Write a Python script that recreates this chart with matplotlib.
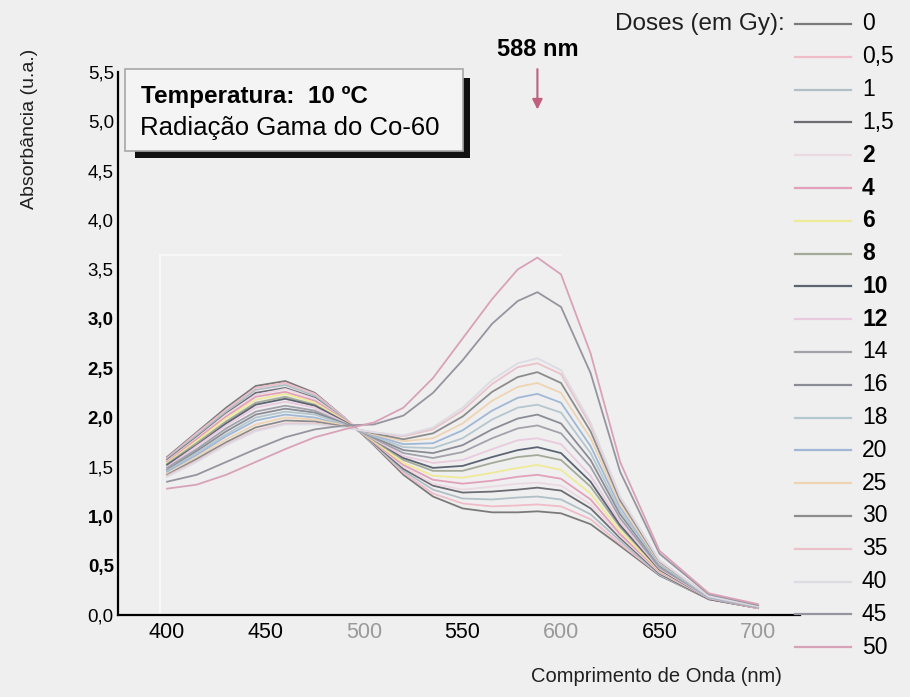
import matplotlib
matplotlib.use("Agg")
import matplotlib.pyplot as plt
from matplotlib.lines import Line2D
from matplotlib.patches import Rectangle

plt.rcParams['font.family'] = ['Liberation Sans', 'DejaVu Sans']

wavelength = [400, 415, 430, 445, 460, 475, 490, 505, 520, 535, 550, 565, 578, 588, 600, 615, 630, 650, 675, 700]

dose_labels = ["0", "0,5", "1", "1,5", "2", "4", "6", "8", "10", "12", "14", "16",
               "18", "20", "25", "30", "35", "40", "45", "50"]

abs_0   = [1.60, 1.85, 2.10, 2.32, 2.37, 2.25, 2.00, 1.72, 1.42, 1.20, 1.08, 1.04, 1.04, 1.05, 1.03, 0.92, 0.70, 0.40, 0.16, 0.07]
abs_0_5 = [1.59, 1.84, 2.08, 2.30, 2.35, 2.24, 2.00, 1.73, 1.44, 1.23, 1.13, 1.10, 1.11, 1.12, 1.10, 0.97, 0.72, 0.41, 0.16, 0.07]
abs_1   = [1.58, 1.82, 2.06, 2.28, 2.33, 2.22, 1.99, 1.73, 1.46, 1.27, 1.18, 1.17, 1.19, 1.20, 1.17, 1.02, 0.75, 0.41, 0.16, 0.07]
abs_1_5 = [1.57, 1.80, 2.04, 2.25, 2.30, 2.20, 1.98, 1.74, 1.48, 1.31, 1.24, 1.25, 1.27, 1.29, 1.26, 1.08, 0.78, 0.42, 0.16, 0.07]
abs_2   = [1.56, 1.79, 2.03, 2.23, 2.29, 2.19, 1.98, 1.75, 1.50, 1.33, 1.27, 1.30, 1.33, 1.34, 1.31, 1.12, 0.80, 0.43, 0.17, 0.07]
abs_4   = [1.55, 1.78, 2.01, 2.21, 2.26, 2.17, 1.98, 1.75, 1.52, 1.37, 1.33, 1.36, 1.40, 1.42, 1.38, 1.17, 0.82, 0.44, 0.17, 0.07]
abs_6   = [1.54, 1.76, 1.99, 2.18, 2.24, 2.15, 1.97, 1.76, 1.54, 1.41, 1.39, 1.44, 1.49, 1.52, 1.47, 1.23, 0.85, 0.45, 0.17, 0.08]
abs_8   = [1.53, 1.74, 1.96, 2.15, 2.21, 2.13, 1.96, 1.77, 1.57, 1.46, 1.46, 1.54, 1.60, 1.62, 1.57, 1.30, 0.89, 0.46, 0.17, 0.08]
abs_10  = [1.52, 1.72, 1.94, 2.13, 2.19, 2.12, 1.96, 1.78, 1.59, 1.49, 1.51, 1.60, 1.67, 1.70, 1.64, 1.35, 0.91, 0.46, 0.17, 0.08]
abs_12  = [1.50, 1.71, 1.92, 2.10, 2.16, 2.10, 1.95, 1.78, 1.61, 1.54, 1.57, 1.68, 1.77, 1.79, 1.73, 1.41, 0.94, 0.47, 0.17, 0.08]
abs_14  = [1.49, 1.68, 1.89, 2.06, 2.12, 2.07, 1.94, 1.79, 1.64, 1.59, 1.65, 1.79, 1.89, 1.92, 1.84, 1.50, 0.98, 0.48, 0.18, 0.08]
abs_16  = [1.47, 1.66, 1.86, 2.03, 2.09, 2.05, 1.94, 1.80, 1.67, 1.64, 1.72, 1.88, 1.99, 2.03, 1.94, 1.57, 1.02, 0.50, 0.18, 0.08]
abs_18  = [1.46, 1.64, 1.83, 2.00, 2.06, 2.03, 1.93, 1.81, 1.70, 1.69, 1.79, 1.98, 2.10, 2.13, 2.05, 1.64, 1.05, 0.51, 0.18, 0.08]
abs_20  = [1.45, 1.62, 1.81, 1.97, 2.03, 2.00, 1.92, 1.82, 1.73, 1.74, 1.87, 2.07, 2.20, 2.24, 2.15, 1.71, 1.09, 0.52, 0.18, 0.09]
abs_25  = [1.43, 1.60, 1.78, 1.93, 2.00, 1.98, 1.92, 1.83, 1.76, 1.79, 1.94, 2.17, 2.31, 2.35, 2.25, 1.79, 1.12, 0.53, 0.19, 0.09]
abs_30  = [1.42, 1.58, 1.75, 1.90, 1.97, 1.96, 1.91, 1.84, 1.78, 1.84, 2.01, 2.26, 2.41, 2.46, 2.35, 1.86, 1.16, 0.54, 0.19, 0.09]
abs_35  = [1.41, 1.56, 1.73, 1.87, 1.94, 1.94, 1.90, 1.85, 1.81, 1.88, 2.07, 2.34, 2.51, 2.55, 2.44, 1.92, 1.19, 0.55, 0.19, 0.09]
abs_40  = [1.40, 1.55, 1.72, 1.86, 1.93, 1.93, 1.90, 1.85, 1.82, 1.90, 2.10, 2.38, 2.55, 2.60, 2.48, 1.95, 1.20, 0.55, 0.19, 0.09]
abs_45  = [1.35, 1.42, 1.55, 1.68, 1.80, 1.88, 1.92, 1.93, 2.02, 2.25, 2.58, 2.95, 3.18, 3.27, 3.12, 2.45, 1.45, 0.62, 0.21, 0.10]
abs_50  = [1.28, 1.32, 1.42, 1.55, 1.68, 1.80, 1.88, 1.95, 2.10, 2.40, 2.80, 3.20, 3.50, 3.62, 3.45, 2.65, 1.55, 0.65, 0.22, 0.11]

series = [abs_0, abs_0_5, abs_1, abs_1_5, abs_2, abs_4, abs_6, abs_8, abs_10, abs_12,
          abs_14, abs_16, abs_18, abs_20, abs_25, abs_30, abs_35, abs_40, abs_45, abs_50]

colors = ['#7a7a7a', '#f0bcc8', '#b0c0c6', '#6c6c74', '#ecd8e2', '#e2a0ba', '#eeea98',
          '#a4aa98', '#5c6474', '#eacade', '#a2a2ac', '#8a8c96', '#b4c6ce', '#a0b8d6',
          '#eed4b2', '#8c8c8c', '#eac2ca', '#dcdce4', '#96949f', '#d8a2b8']

yticks = [0.0, 0.5, 1.0, 1.5, 2.0, 2.5, 3.0, 3.5, 4.0, 4.5, 5.0, 5.5]
ytick_labels = ["0,0", "0,5", "1,0", "1,5", "2,0", "2,5", "3,0", "3,5", "4,0", "4,5", "5,0", "5,5"]
ytick_bold = [False, True, True, False, True, True, True, False, False, False, False, False]
xticks = [400, 450, 500, 550, 600, 650, 700]
xtick_colors = ['black', 'black', '#9a9a9a', 'black', '#9a9a9a', 'black', '#9a9a9a']

W, H = 910, 697
bg = '#efefef'
fig = plt.figure(figsize=(W / 100, H / 100), dpi=100, facecolor=bg)
ax = fig.add_axes([118 / W, 1 - 615 / H, (800 - 118) / W, (615 - 72) / H], facecolor=bg)

# faint inner frame from the scan
ax.plot([396.5, 396.5], [0, 3.65], color='#fbfbfb', lw=1.2, zorder=0)
ax.plot([396.5, 600], [3.65, 3.65], color='#f8f8f8', lw=1.2, zorder=0)

lines = []
for vals, c in zip(series, colors):
    ln, = ax.plot(wavelength, vals, color=c, lw=1.3)
    lines.append(ln)

ax.set_xlim(375.1, 721.3)
ax.set_ylim(0, 5.5)
for s in ['top', 'right']:
    ax.spines[s].set_visible(False)
ax.spines['left'].set_linewidth(1.6)
ax.spines['bottom'].set_linewidth(1.6)

ax.set_yticks(yticks)
ax.set_yticklabels(ytick_labels, fontsize=13.5)
for lab, b in zip(ax.get_yticklabels(), ytick_bold):
    lab.set_fontweight('bold' if b else 'normal')
ax.set_xticks(xticks)
ax.set_xticklabels([str(v) for v in xticks], fontsize=15.5)
for lab, c in zip(ax.get_xticklabels(), xtick_colors):
    lab.set_color(c)
ax.tick_params(axis='both', length=0)
ax.tick_params(axis='y', pad=3)
ax.tick_params(axis='x', pad=5)

# axis titles
fig.text(30 / W, 1 - 129 / H, "Absorbância (u.a.)", rotation=90, fontsize=14,
         ha='center', va='center', color='#202020')
fig.text(782 / W, 1 - 677 / H, "Comprimento de Onda (nm)", fontsize=14.5,
         ha='right', va='center', color='#202020')

# info box with shadow
fig.add_artist(Rectangle((135 / W, 1 - 158 / H), (470 - 135) / W, (158 - 78) / H,
                         transform=fig.transFigure, facecolor='#111111', edgecolor='none', zorder=3))
fig.add_artist(Rectangle((125 / W, 1 - 151 / H), (463 - 125) / W, (151 - 69) / H,
                         transform=fig.transFigure, facecolor='#f4f4f4', edgecolor='#a8a8a8',
                         lw=1.2, zorder=4))
fig.text(141 / W, 1 - 97 / H, "Temperatura:  10 ºC", fontsize=17.5, fontweight='bold',
         ha='left', va='center', zorder=5)
fig.text(140 / W, 1 - 128 / H, "Radiação Gama do Co-60", fontsize=18.5,
         ha='left', va='center', zorder=5)

# 588 nm annotation
ax.annotate("588 nm", xy=(588, 5.12), xytext=(588, 5.73), textcoords='data',
            ha='center', va='center', fontsize=17, fontweight='bold',
            arrowprops=dict(arrowstyle='-|>', color='#c0607e', lw=1.5, mutation_scale=15,
                            shrinkA=4, shrinkB=0),
            annotation_clip=False)

# legend
fig.text(785 / W, 1 - 24 / H, "Doses (em Gy):", fontsize=17.5, ha='right', va='center',
         color='#202020')
bold_from, bold_to = 4, 9
for i, (lab, ln) in enumerate(zip(dose_labels, lines)):
    y = 1 - (24 + 32.8 * i) / H
    fig.add_artist(Line2D([795 / W, 851 / W], [y, y], transform=fig.transFigure,
                          color=ln.get_color(), lw=1.6))
    fig.text(862 / W, y, lab, fontsize=16.5, ha='left', va='center',
             fontweight='bold' if bold_from <= i <= bold_to else 'normal')

fig.savefig("out.png", dpi=100, facecolor=bg)
